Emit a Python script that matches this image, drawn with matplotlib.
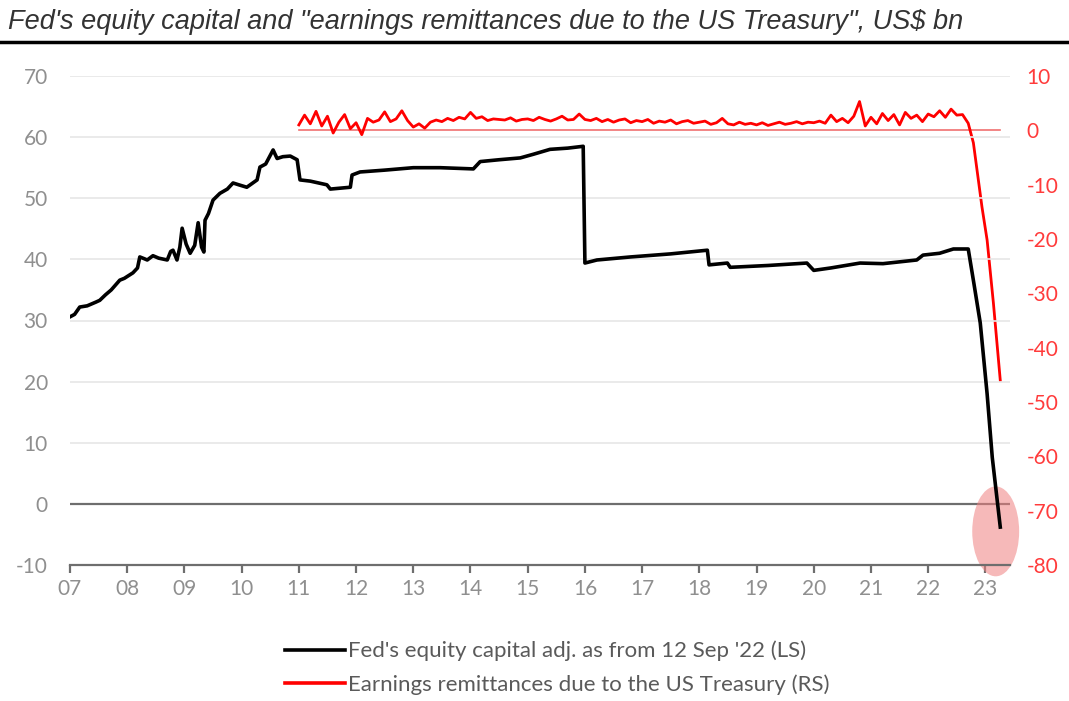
import numpy as np
import matplotlib.pyplot as plt
from matplotlib.patches import Ellipse
from matplotlib.lines import Line2D

plt.rcParams['axes.unicode_minus'] = False

# Fed's equity capital (LS), US$ bn (decimal year -> value)
cap_years = [7.00, 7.08, 7.17, 7.30, 7.45, 7.52, 7.62, 7.72, 7.87, 7.95, 8.10, 8.18, 8.22,
             8.30, 8.35, 8.45, 8.55, 8.70, 8.76, 8.80, 8.87, 8.92, 8.96, 9.03, 9.10, 9.18,
             9.24, 9.30, 9.34, 9.36, 9.42, 9.50, 9.62, 9.75, 9.85, 9.95, 10.09, 10.18,
             10.27, 10.32, 10.42, 10.55, 10.62, 10.72, 10.85, 10.97, 11.02, 11.20, 11.49,
             11.55, 11.90, 11.93, 12.07, 12.50, 13.00, 13.47, 14.05, 14.17, 14.50, 14.87,
             15.10, 15.39, 15.70, 15.97, 16.00, 16.21, 16.80, 17.50, 18.14, 18.17, 18.49,
             18.54, 19.20, 19.88, 20.00, 20.30, 20.81, 21.21, 21.80, 21.91, 22.20, 22.44,
             22.70, 22.80, 22.91, 23.03, 23.12, 23.26]
cap_vals = [30.6, 31.0, 32.2, 32.4, 33.0, 33.3, 34.2, 35.0, 36.6, 36.9, 37.8, 38.6, 40.4,
            40.1, 39.9, 40.6, 40.2, 39.9, 41.3, 41.5, 39.9, 42.0, 45.1, 42.5, 41.0, 42.3,
            46.0, 42.0, 41.2, 46.4, 47.5, 49.7, 50.8, 51.5, 52.5, 52.2, 51.8, 52.4, 53.0,
            55.1, 55.6, 57.9, 56.5, 56.8, 56.9, 56.3, 53.0, 52.8, 52.2, 51.5, 51.8, 53.8,
            54.3, 54.6, 55.0, 55.0, 54.8, 56.0, 56.3, 56.6, 57.2, 58.0, 58.2, 58.5, 39.4,
            39.9, 40.4, 40.9, 41.5, 39.1, 39.4, 38.7, 39.0, 39.4, 38.2, 38.6, 39.4, 39.3,
            39.9, 40.7, 41.0, 41.7, 41.7, 36.0, 29.6, 18.0, 7.6, -3.8]

# Earnings remittances due to the US Treasury (RS), US$ bn
remit_years = np.round(np.arange(11.0, 22.65, 0.1), 2).tolist() + [22.70, 22.79, 22.94, 23.03, 23.14, 23.26]
remit_vals = [1.0, 2.8, 1.2, 3.5, 0.8, 2.6, -0.5, 1.5, 2.9, 0.3,
              1.4, -0.8, 2.2, 1.5, 1.9, 3.4, 1.6, 2.1, 3.6, 1.8,
              0.6, 1.2, 0.4, 1.5, 1.9, 1.6, 2.2, 1.8, 2.4, 2.1,
              3.3, 2.2, 2.5, 1.8, 2.1, 2.0, 1.9, 2.3, 1.7, 2.0,
              2.1, 1.8, 2.4, 2.0, 1.7, 2.1, 2.6, 1.9, 2.0, 3.0,
              2.0, 1.8, 2.2, 1.6, 2.0, 1.5, 1.9, 2.1, 1.4, 1.8,
              1.6, 2.0, 1.3, 1.7, 1.5, 1.9, 1.2, 1.6, 1.8, 1.3,
              1.5, 1.7, 1.1, 1.4, 2.2, 1.2, 1.0, 1.5, 1.1, 1.3,
              1.0, 1.4, 0.9, 1.2, 1.5, 1.1, 1.3, 1.6, 1.2, 1.5,
              1.4, 1.7, 1.3, 2.8, 1.6, 2.2, 1.4, 2.6, 5.3, 0.8,
              2.4, 1.2, 3.1, 1.8, 2.9, 1.0, 3.3, 2.2, 2.8, 1.6,
              3.0, 2.5, 3.6, 2.4, 3.9, 2.8, 2.9,
              1.3, -2.3, -14.1, -20.2, -31.8, -46.0]

x_ticks = list(range(7, 24))
x_labels = ['%02d' % t for t in x_ticks]
left_ticks = list(range(-10, 71, 10))
right_ticks = list(range(-80, 11, 10))

title = 'Fed\'s equity capital and "earnings remittances due to the US Treasury", US$ bn'
label_cap = "Fed's equity capital adj. as from 12 Sep '22 (LS)"
label_remit = 'Earnings remittances due to the US Treasury (RS)'

tick_font = ['Lato', 'DejaVu Sans']
grey = '#8f8f8f'
red = '#ff0000'

fig = plt.figure(figsize=(10.69, 7.01), dpi=100)
ax = fig.add_axes([70 / 1069, 1 - 565 / 701, 940 / 1069, 489 / 701])
ax2 = ax.twinx()

# grid + zero line
for v in left_ticks[2:]:
    ax.axhline(v, color='#e6e6e6', lw=1.2, zorder=0)
ax.axhline(0, color='#6e6e6e', lw=1.6, zorder=1)

ax.plot(cap_years, cap_vals, color='black', lw=2.6, zorder=3)
# highlight circle around the latest reading
ax.add_patch(Ellipse((23.18, -4.5), 0.82, 14.7, color='#f08080', alpha=0.55, lw=0,
                     zorder=2, clip_on=False))

ax2.plot([11.0, 23.26], [0, 0], color='#f07070', lw=1.2, zorder=2)
ax2.plot(remit_years, remit_vals, color=red, lw=2.0, zorder=3)

ax.set_xlim(7, 23.43)
ax.set_ylim(-10, 70)
ax2.set_ylim(-80, 10)
ax.set_zorder(ax2.get_zorder() + 1)
ax.patch.set_visible(False)

ax.set_xticks(x_ticks)
ax.set_xticklabels(x_labels)
ax.set_yticks(left_ticks)
ax2.set_yticks(right_ticks)

for a in (ax, ax2):
    for s in ('top', 'left', 'right'):
        a.spines[s].set_visible(False)
ax.spines['bottom'].set_color('#6e6e6e')
ax.spines['bottom'].set_linewidth(1.6)
ax2.spines['bottom'].set_visible(False)

ax.tick_params(axis='x', direction='out', length=6, width=1.6, color='#6e6e6e', pad=4,
               labelsize=15, labelcolor=grey)
ax.tick_params(axis='y', length=0, pad=16, labelsize=15, labelcolor=grey)
ax2.tick_params(axis='y', length=0, pad=12, labelsize=15, labelcolor='#ff3b3b')
for lab in ax.get_xticklabels() + ax.get_yticklabels() + ax2.get_yticklabels():
    lab.set_family(tick_font)

# title with underline
fig.text(8 / 1069, 1 - 22 / 701, title, fontsize=19.5, style='italic', color='#333333',
         family=['Liberation Sans', 'DejaVu Sans'], va='center', ha='left')
fig.add_artist(Line2D([0, 1], [1 - 42 / 701] * 2, color='black', lw=2.5))

handles = [Line2D([], [], color='black', lw=2.6), Line2D([], [], color=red, lw=2.6)]
leg = fig.legend(handles, [label_cap, label_remit], loc='center left',
                 bbox_to_anchor=(285 / 1069, 1 - 668 / 701), frameon=False,
                 borderpad=0, borderaxespad=0, handlelength=2.7, handletextpad=0.15,
                 labelspacing=0.6, prop={'family': tick_font, 'size': 16})
for t in leg.get_texts():
    t.set_color('#5a5a5a')

fig.savefig('out.png', dpi=100)
